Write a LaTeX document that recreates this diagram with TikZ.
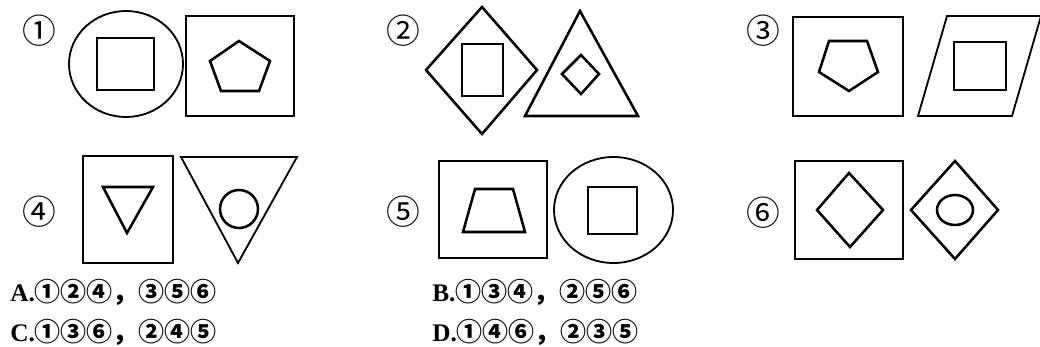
\documentclass[tikz,border=0pt]{standalone}
\usepackage{fontspec}
\setmainfont{Liberation Serif}
\newfontfamily\cjkfont{Noto Sans CJK SC}
\usetikzlibrary{positioning}
\newcommand{\circnum}[1]{{\cjkfont\bfseries\fontsize{18.5}{20}\selectfont #1}}

\begin{document}
\begin{tikzpicture}[x=0.025cm,y=-0.025cm,
  fig/.style={line width=1.3pt,line join=miter},
  inner/.style={line width=1.8pt,line join=miter},
  tag/.style={font=\cjkfont\fontsize{24}{24}\selectfont,inner sep=0pt},
  choice/.style={anchor=west,inner sep=0pt,font=\bfseries\fontsize{18}{20}\selectfont}]
\useasboundingbox (0,0) rectangle (1040,347);
\clip (0,0) rectangle (1040,347);
% figure 1
\node[tag] (t1) at (39,31) {①};
\draw[fig] (126,64) ellipse [x radius=57,y radius=53];
\draw[inner] (97,38) rectangle (154,90);
\draw[fig] (186,16) rectangle (294,116);
\draw[inner] (239,41) -- (270,61) -- (259,91) -- (221,91) -- (210,61) -- cycle;
% figure 2
\node[tag] (t2) at (403,31) {②};
\draw[inner] (482,7) -- (537,70) -- (482,134) -- (426,70) -- cycle;
\draw[inner] (462,44) rectangle (503,96);
\draw[inner] (580,11) -- (638,116) -- (525,116) -- cycle;
\draw[inner] (581,55) -- (599,74) -- (581,94) -- (562,74) -- cycle;
% figure 3
\node[tag] (t3) at (763,31) {③};
\draw[inner] (793,17) rectangle (903,116);
\draw[inner] (829,41) -- (867,41) -- (878,72) -- (849,91) -- (819,72) -- cycle;
\draw[fig] (947,16) -- (1041,16) -- (1012,116) -- (918,116) -- cycle;
\draw[inner] (954,42) rectangle (1006,90);
% figure 4
\node[tag] (t4) at (39,212) {④};
\draw[fig] (83,156) rectangle (173,263);
\draw[inner] (103,187) -- (153,187) -- (127,233) -- cycle;
\draw[fig] (181,157) -- (297,157) -- (238,263) -- cycle;
\draw[inner] (239,209) circle [radius=19];
% figure 5
\node[tag] (t5) at (403,212) {⑤};
\draw[fig] (439,161) rectangle (547,258);
\draw[inner] (475,189) -- (513,189) -- (525,232) -- (463,232) -- cycle;
\draw[fig] (613.5,210) ellipse [x radius=59.5,y radius=53];
\draw[inner] (588,187) rectangle (637,234);
% figure 6
\node[tag] (t6) at (763,213) {⑥};
\draw[fig] (795,161) rectangle (903,259);
\draw[inner] (849,173) -- (883,210) -- (850,247) -- (817,210) -- cycle;
\draw[inner] (955,161) -- (998,210) -- (955,259) -- (911,210) -- cycle;
\draw[inner] (955,210) ellipse [x radius=18,y radius=15];
% answer options
\node[choice] (optA) at (10,292) {A.\circnum{①②④，③⑤⑥}};
\node[choice] (optC) at (10,332) {C.\circnum{①③⑥，②④⑤}};
\node[choice] (optB) at (432,292) {B.\circnum{①③④，②⑤⑥}};
\node[choice] (optD) at (432,332) {D.\circnum{①④⑥，②③⑤}};
\end{tikzpicture}
\end{document}
